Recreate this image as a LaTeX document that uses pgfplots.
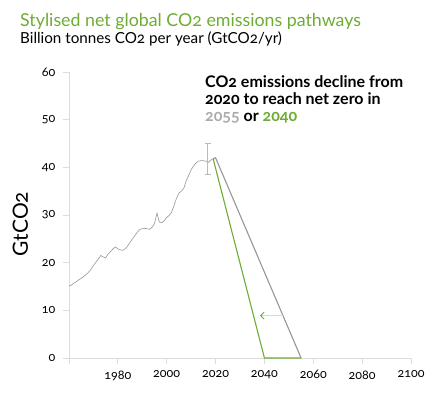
\documentclass[border=0pt]{standalone}
\usepackage{fontspec}
\setmainfont{Lato}[Numbers=OldStyle]
\usepackage{pgfplots}
\pgfplotsset{compat=1.18}
\usetikzlibrary{arrows.meta}
\definecolor{tgreen}{RGB}{110,172,52}
\definecolor{lgreen}{RGB}{205,226,190}
\definecolor{lgrey}{RGB}{150,150,150}
\definecolor{axgrey}{RGB}{220,220,220}
\begin{document}
\begin{tikzpicture}
\path[use as bounding box] (-69pt,-40pt) rectangle (363pt,358pt);
\begin{axis}[
  at={(0pt,0pt)}, anchor=south west,
  scale only axis, width=342pt, height=286pt,
  xmin=1960, xmax=2100, ymin=0, ymax=60,
  axis x line*=bottom, axis y line*=left,
  axis line style={axgrey, line width=0.8pt, -},
  tick style={axgrey, line width=0.8pt},
  tick align=outside, major tick length=6pt,
  xtick={1960,1980,...,2100},
  xticklabels={,1980,2000,2020,2040,2060,2080,2100},
  ytick={0,10,...,60},
  /pgf/number format/assume math mode=true,
  yticklabel={\pgfmathprintnumber[assume math mode=true]{\tick}},
  ticklabel style={font=\fontsize{12.5}{14}\selectfont, black},
  yticklabel style={xshift=-4pt},
  xticklabel style={yshift=-3pt},
  clip=false,
]
\addplot[lgrey, line width=0.6pt] coordinates {
(1960,15.1) (1961,15.3) (1962,15.7) (1963,16.0) (1964,16.4) (1965,16.7)
(1966,17.1) (1967,17.5) (1968,18.0) (1969,18.6) (1970,19.4) (1971,20.1)
(1972,20.8) (1973,21.5) (1974,21.2) (1975,21.0) (1976,21.8) (1977,22.3)
(1978,22.9) (1979,23.3) (1980,22.9) (1981,22.7) (1982,22.6) (1983,22.9)
(1984,23.5) (1985,24.3) (1986,25.0) (1987,25.7) (1988,26.4) (1989,27.0)
(1990,27.1) (1991,27.2) (1992,27.1) (1993,27.0) (1994,27.4) (1995,28.2)
(1996,30.4) (1997,28.5) (1998,28.4) (1999,28.8) (2000,29.5) (2001,29.9)
(2002,30.6) (2003,32.0) (2004,33.5) (2005,34.6) (2006,35.0) (2007,35.6)
(2008,37.2) (2009,38.3) (2010,39.5) (2011,40.3) (2012,40.9) (2013,41.3)
(2014,41.4) (2015,41.4) (2016,41.3) (2017,41.0) (2018,41.5) (2019,41.8)
};
\addplot[draw=none, mark=none, forget plot,
  error bars/.cd, y dir=both, y explicit,
  error bar style={axgrey!85!black, line width=0.9pt},
  error mark options={rotate=90, mark size=3pt, axgrey!85!black, line width=0.9pt}]
  coordinates {(2016.8,41.8) +- (0,3.2)};
\addplot[lgrey, line width=1.1pt] coordinates {(2019,41.8) (2020,42.0) (2055,0)};
\addplot[tgreen, line width=1.1pt] coordinates {(2019,41.8) (2040,0) (2055,0)};
\addplot[lgreen, line width=1.1pt, forget plot] coordinates {(2047.6,8.9) (2039.0,8.9)};
\addplot[tgreen, line width=0.9pt, -{Straight Barb[length=3.5pt,width=7pt]}, shorten <=7.6pt] coordinates {(2041.8,8.9) (2038.2,8.9)};
\end{axis}
\node[anchor=base west, text=tgreen, font=\fontsize{17.8}{20}\selectfont, inner sep=0pt] at (-49pt,331.3pt) {Stylised net global CO2 emissions pathways};
\node[anchor=base west, font=\fontsize{15.2}{18}\selectfont, inner sep=0pt] at (-49pt,314.7pt) {Billion tonnes CO2 per year (GtCO2/yr)};
\node[anchor=base, rotate=90, font=\fontsize{21}{24}\selectfont, inner sep=0pt] at (-41pt,134pt) {GtCO2};
\node[anchor=base west, font=\bfseries\fontsize{16}{17}\selectfont, inner sep=0pt] at (136pt,270pt) {CO2 emissions decline from};
\node[anchor=base west, font=\bfseries\fontsize{16}{17}\selectfont, inner sep=0pt] at (136pt,253pt) {2020 to reach net zero in};
\node[anchor=base west, font=\bfseries\fontsize{16}{17}\selectfont, inner sep=0pt] at (136pt,236.3pt) {\textcolor{lgrey!80}{2055} or \textcolor{tgreen}{2040}};
\end{tikzpicture}
\end{document}
